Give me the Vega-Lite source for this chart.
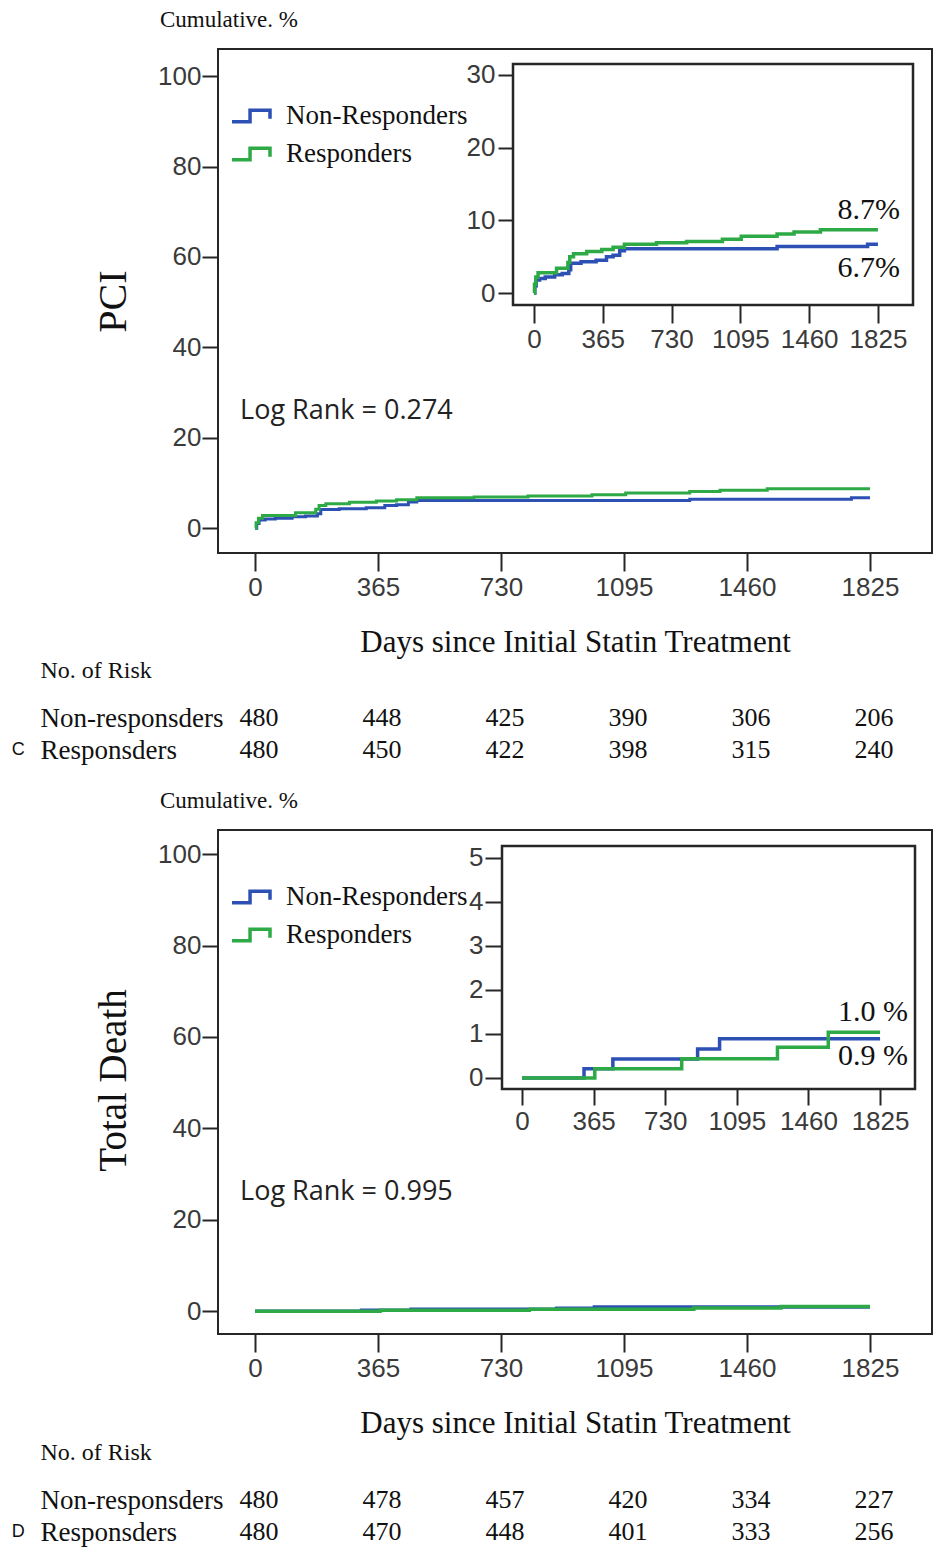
{
  "$schema": "https://vega.github.io/schema/vega-lite/v6.json",
  "background": "white",
  "padding": {"left": 10, "top": 8, "right": 4, "bottom": 4},
  "bounds": "flush",
  "spacing": 277,
  "resolve": {"scale": {"color": "independent"}, "legend": {"color": "independent"}},
  "config": {
    "numberFormat": "d",
    "view": {"stroke": "#262626", "strokeWidth": 2},
    "axis": {"grid": false, "domain": false, "labelFont": "Liberation Sans", "labelFontSize": 26, "labelColor": "#3a3a3a", "tickColor": "#262626", "tickWidth": 2, "labelOverlap": false, "labelFlush": false, "labelLimit": 400, "titleFont": "Liberation Serif", "titleFontWeight": "normal", "titleColor": "#111111"},
    "legend": {"orient": "none", "legendX": 12, "legendY": 46, "title": null, "symbolType": "M-1,0.3H-0.05V-0.3H1V0.15", "symbolSize": 1444, "symbolStrokeWidth": 3.5, "symbolFillColor": "transparent", "labelFont": "Liberation Serif", "labelFontSize": 27, "labelColor": "#111111", "labelOffset": 14, "rowPadding": 4, "padding": 0, "labelLimit": 400},
    "title": {"anchor": "start", "frame": "group", "dx": -58, "offset": 17, "baseline": "alphabetic", "font": "Liberation Serif", "fontSize": 23, "fontWeight": "normal", "color": "#111111"}
  },
  "datasets": {
    "pci": [
      {"group": "Non-Responders", "day": 0, "pct": 0},
      {"group": "Non-Responders", "day": 5, "pct": 1.0},
      {"group": "Non-Responders", "day": 12, "pct": 1.8},
      {"group": "Non-Responders", "day": 30, "pct": 2.0},
      {"group": "Non-Responders", "day": 60, "pct": 2.2},
      {"group": "Non-Responders", "day": 110, "pct": 2.5},
      {"group": "Non-Responders", "day": 150, "pct": 2.7},
      {"group": "Non-Responders", "day": 185, "pct": 3.2},
      {"group": "Non-Responders", "day": 195, "pct": 4.1},
      {"group": "Non-Responders", "day": 250, "pct": 4.3},
      {"group": "Non-Responders", "day": 330, "pct": 4.5},
      {"group": "Non-Responders", "day": 385, "pct": 5.0},
      {"group": "Non-Responders", "day": 420, "pct": 5.2},
      {"group": "Non-Responders", "day": 455, "pct": 5.8},
      {"group": "Non-Responders", "day": 480, "pct": 6.1},
      {"group": "Non-Responders", "day": 1290, "pct": 6.4},
      {"group": "Non-Responders", "day": 1770, "pct": 6.7},
      {"group": "Non-Responders", "day": 1825, "pct": 6.7},
      {"group": "Responders", "day": 0, "pct": 0},
      {"group": "Responders", "day": 3, "pct": 1.2},
      {"group": "Responders", "day": 10, "pct": 2.2},
      {"group": "Responders", "day": 22, "pct": 2.8},
      {"group": "Responders", "day": 120, "pct": 3.4},
      {"group": "Responders", "day": 180, "pct": 4.2},
      {"group": "Responders", "day": 190, "pct": 5.0},
      {"group": "Responders", "day": 210, "pct": 5.4},
      {"group": "Responders", "day": 280, "pct": 5.7},
      {"group": "Responders", "day": 360, "pct": 6.0},
      {"group": "Responders", "day": 420, "pct": 6.3},
      {"group": "Responders", "day": 480, "pct": 6.7},
      {"group": "Responders", "day": 650, "pct": 6.9},
      {"group": "Responders", "day": 810, "pct": 7.1},
      {"group": "Responders", "day": 1000, "pct": 7.4},
      {"group": "Responders", "day": 1100, "pct": 7.8},
      {"group": "Responders", "day": 1290, "pct": 8.1},
      {"group": "Responders", "day": 1380, "pct": 8.4},
      {"group": "Responders", "day": 1520, "pct": 8.7},
      {"group": "Responders", "day": 1825, "pct": 8.7}
    ],
    "death": [
      {"group": "Non-Responders", "day": 0, "pct": 0},
      {"group": "Non-Responders", "day": 316, "pct": 0.21},
      {"group": "Non-Responders", "day": 463, "pct": 0.43},
      {"group": "Non-Responders", "day": 895, "pct": 0.66},
      {"group": "Non-Responders", "day": 1007, "pct": 0.89},
      {"group": "Non-Responders", "day": 1825, "pct": 0.89},
      {"group": "Responders", "day": 0, "pct": 0},
      {"group": "Responders", "day": 371, "pct": 0.21},
      {"group": "Responders", "day": 814, "pct": 0.44},
      {"group": "Responders", "day": 1302, "pct": 0.70},
      {"group": "Responders", "day": 1561, "pct": 1.04},
      {"group": "Responders", "day": 1825, "pct": 1.04}
    ],
    "riskC": [
      {"group": "Non-responsders", "day": 0, "n": 480},
      {"group": "Non-responsders", "day": 365, "n": 448},
      {"group": "Non-responsders", "day": 730, "n": 425},
      {"group": "Non-responsders", "day": 1095, "n": 390},
      {"group": "Non-responsders", "day": 1460, "n": 306},
      {"group": "Non-responsders", "day": 1825, "n": 206},
      {"group": "Responsders", "day": 0, "n": 480},
      {"group": "Responsders", "day": 365, "n": 450},
      {"group": "Responsders", "day": 730, "n": 422},
      {"group": "Responsders", "day": 1095, "n": 398},
      {"group": "Responsders", "day": 1460, "n": 315},
      {"group": "Responsders", "day": 1825, "n": 240}
    ],
    "riskD": [
      {"group": "Non-responsders", "day": 0, "n": 480},
      {"group": "Non-responsders", "day": 365, "n": 478},
      {"group": "Non-responsders", "day": 730, "n": 457},
      {"group": "Non-responsders", "day": 1095, "n": 420},
      {"group": "Non-responsders", "day": 1460, "n": 334},
      {"group": "Non-responsders", "day": 1825, "n": 227},
      {"group": "Responsders", "day": 0, "n": 480},
      {"group": "Responsders", "day": 365, "n": 470},
      {"group": "Responsders", "day": 730, "n": 448},
      {"group": "Responsders", "day": 1095, "n": 401},
      {"group": "Responsders", "day": 1460, "n": 333},
      {"group": "Responsders", "day": 1825, "n": 256}
    ]
  },
  "vconcat": [
    {
      "title": {"text": "Cumulative. %"},
      "width": 714,
      "height": 504,
      "resolve": {"scale": {"x": "independent", "y": "independent"}},
      "layer": [
        {
          "layer": [
            {
              "data": {"name": "pci"},
              "mark": {"type": "line", "interpolate": "step-after", "strokeWidth": 3},
              "encoding": {
                "x": {"field": "day", "type": "quantitative", "scale": {"domain": [-110, 2009], "nice": false, "zero": false},
                  "axis": {"values": [0, 365, 730, 1095, 1460, 1825], "format": "d", "tickSize": 18, "labelPadding": 3, "title": "Days since Initial Statin Treatment", "titleFontSize": 31, "titleY": 98, "titleBaseline": "alphabetic"}},
                "y": {"field": "pct", "type": "quantitative", "scale": {"domain": [-5.5, 106], "nice": false, "zero": false},
                  "axis": {"values": [0, 20, 40, 60, 80, 100], "format": "d", "tickSize": 16, "labelPadding": 1, "title": "PCI", "titleFontSize": 40, "titleAngle": -90, "titleX": -105, "titleY": 252, "titleAlign": "center", "titleBaseline": "middle"}},
                "color": {"field": "group", "type": "nominal", "scale": {"domain": ["Non-Responders", "Responders"], "range": ["#2d50b4", "#2daa46"]}}
              }
            },
            {
              "data": {"values": [{"label": "Log Rank = 0.274"}]},
              "mark": {"type": "text", "font": "Open Sans", "fontSize": 27, "align": "left", "baseline": "middle", "dx": -15, "color": "#222222"},
              "encoding": {
                "x": {"datum": 0, "type": "quantitative", "scale": {"domain": [-110, 2009], "nice": false, "zero": false}},
                "y": {"datum": 26, "type": "quantitative", "scale": {"domain": [-5.5, 106], "nice": false, "zero": false}},
                "text": {"field": "label"}
              }
            }
          ]
        },
        {
          "layer": [
            {
              "data": {"values": [{}]},
              "mark": {"type": "rect", "fill": "white", "stroke": "#262626", "strokeWidth": 2.5},
              "encoding": {
                "x": {"datum": -111, "type": "quantitative", "scale": {"domain": [-111, 2011], "range": [295, 695], "nice": false, "zero": false},
                  "axis": {"orient": "bottom", "offset": -248, "values": [0, 365, 730, 1095, 1460, 1825], "format": "d", "tickSize": 18, "labelPadding": 3, "title": null}},
                "x2": {"datum": 2011},
                "y": {"datum": -1.65, "type": "quantitative", "scale": {"domain": [-1.65, 31.5], "range": [256, 15], "nice": false, "zero": false},
                  "axis": {"orient": "left", "offset": -295, "values": [0, 10, 20, 30], "format": "d", "tickSize": 15, "labelPadding": 3, "title": null}},
                "y2": {"datum": 31.5}
              }
            },
            {
              "data": {"name": "pci"},
              "mark": {"type": "line", "interpolate": "step-after", "strokeWidth": 3.5},
              "encoding": {
                "x": {"field": "day", "type": "quantitative", "scale": {"domain": [-111, 2011], "range": [295, 695], "nice": false, "zero": false},
                  "axis": {"orient": "bottom", "offset": -248, "values": [0, 365, 730, 1095, 1460, 1825], "format": "d", "tickSize": 18, "labelPadding": 3, "title": null}},
                "y": {"field": "pct", "type": "quantitative", "scale": {"domain": [-1.65, 31.5], "range": [256, 15], "nice": false, "zero": false},
                  "axis": {"orient": "left", "offset": -295, "values": [0, 10, 20, 30], "format": "d", "tickSize": 15, "labelPadding": 3, "title": null}},
                "color": {"field": "group", "type": "nominal", "scale": {"domain": ["Non-Responders", "Responders"], "range": ["#2d50b4", "#2daa46"]}}
              }
            },
            {
              "data": {"values": [{"day": 1825, "pct": 8.7, "label": "8.7%"}]},
              "mark": {"type": "text", "font": "Liberation Serif", "fontSize": 30, "align": "right", "baseline": "middle", "dx": 22, "dy": -20, "color": "#111111"},
              "encoding": {
                "x": {"field": "day", "type": "quantitative", "scale": {"domain": [-111, 2011], "range": [295, 695], "nice": false, "zero": false},
                  "axis": {"orient": "bottom", "offset": -248, "values": [0, 365, 730, 1095, 1460, 1825], "format": "d", "tickSize": 18, "labelPadding": 3, "title": null}},
                "y": {"field": "pct", "type": "quantitative", "scale": {"domain": [-1.65, 31.5], "range": [256, 15], "nice": false, "zero": false},
                  "axis": {"orient": "left", "offset": -295, "values": [0, 10, 20, 30], "format": "d", "tickSize": 15, "labelPadding": 3, "title": null}},
                "text": {"field": "label"}
              }
            },
            {
              "data": {"values": [{"day": 1825, "pct": 6.7, "label": "6.7%"}]},
              "mark": {"type": "text", "font": "Liberation Serif", "fontSize": 30, "align": "right", "baseline": "middle", "dx": 22, "dy": 24, "color": "#111111"},
              "encoding": {
                "x": {"field": "day", "type": "quantitative", "scale": {"domain": [-111, 2011], "range": [295, 695], "nice": false, "zero": false},
                  "axis": {"orient": "bottom", "offset": -248, "values": [0, 365, 730, 1095, 1460, 1825], "format": "d", "tickSize": 18, "labelPadding": 3, "title": null}},
                "y": {"field": "pct", "type": "quantitative", "scale": {"domain": [-1.65, 31.5], "range": [256, 15], "nice": false, "zero": false},
                  "axis": {"orient": "left", "offset": -295, "values": [0, 10, 20, 30], "format": "d", "tickSize": 15, "labelPadding": 3, "title": null}},
                "text": {"field": "label"}
              }
            }
          ]
        },
        {
          "layer": [
            {
              "data": {"name": "riskC"},
              "mark": {"type": "text", "font": "Liberation Serif", "fontSize": 26, "baseline": "middle", "dx": 4, "color": "#111111"},
              "encoding": {
                "x": {"field": "day", "type": "quantitative", "scale": {"domain": [-110, 2009], "nice": false, "zero": false}, "axis": null},
                "y": {"field": "group", "type": "nominal", "scale": {"type": "point", "domain": ["Non-responsders", "Responsders"], "range": [669, 701], "padding": 0},
                  "axis": {"orient": "left", "ticks": false, "tickSize": 0, "labelAlign": "left", "labelBaseline": "middle", "labelPadding": 178, "labelLimit": 400, "labelFont": "Liberation Serif", "labelFontSize": 27, "labelColor": "#111111", "title": "No. of Risk", "titleAngle": 0, "titleAlign": "left", "titleBaseline": "middle", "titleX": -178, "titleY": 621, "titleFontSize": 24}},
                "text": {"field": "n"}
              }
            },
            {
              "data": {"values": [{"group": "Responsders", "panel": "C"}]},
              "mark": {"type": "text", "font": "Liberation Sans", "fontSize": 18, "align": "left", "baseline": "middle", "color": "#111111"},
              "encoding": {
                "x": {"datum": -722, "type": "quantitative", "scale": {"domain": [-110, 2009], "nice": false, "zero": false}, "axis": null},
                "y": {"field": "group", "type": "nominal", "scale": {"type": "point", "domain": ["Non-responsders", "Responsders"], "range": [669, 701], "padding": 0},
                  "axis": {"orient": "left", "ticks": false, "tickSize": 0, "labelAlign": "left", "labelBaseline": "middle", "labelPadding": 178, "labelLimit": 400, "labelFont": "Liberation Serif", "labelFontSize": 27, "labelColor": "#111111", "title": "No. of Risk", "titleAngle": 0, "titleAlign": "left", "titleBaseline": "middle", "titleX": -178, "titleY": 621, "titleFontSize": 24}},
                "text": {"field": "panel"}
              }
            }
          ]
        }
      ]
    },
    {
      "title": {"text": "Cumulative. %"},
      "width": 714,
      "height": 504,
      "resolve": {"scale": {"x": "independent", "y": "independent"}},
      "layer": [
        {
          "layer": [
            {
              "data": {"name": "death"},
              "mark": {"type": "line", "interpolate": "step-after", "strokeWidth": 3.5},
              "encoding": {
                "x": {"field": "day", "type": "quantitative", "scale": {"domain": [-110, 2009], "nice": false, "zero": false},
                  "axis": {"values": [0, 365, 730, 1095, 1460, 1825], "format": "d", "tickSize": 18, "labelPadding": 3, "title": "Days since Initial Statin Treatment", "titleFontSize": 31, "titleY": 98, "titleBaseline": "alphabetic"}},
                "y": {"field": "pct", "type": "quantitative", "scale": {"domain": [-5.0, 105.3], "nice": false, "zero": false},
                  "axis": {"values": [0, 20, 40, 60, 80, 100], "format": "d", "tickSize": 16, "labelPadding": 1, "title": "Total Death", "titleFontSize": 39, "titleAngle": -90, "titleX": -105, "titleY": 250, "titleAlign": "center", "titleBaseline": "middle"}},
                "color": {"field": "group", "type": "nominal", "scale": {"domain": ["Non-Responders", "Responders"], "range": ["#2d50b4", "#2daa46"]}}
              }
            },
            {
              "data": {"values": [{"label": "Log Rank = 0.995"}]},
              "mark": {"type": "text", "font": "Open Sans", "fontSize": 27, "align": "left", "baseline": "middle", "dx": -15, "color": "#222222"},
              "encoding": {
                "x": {"datum": 0, "type": "quantitative", "scale": {"domain": [-110, 2009], "nice": false, "zero": false}},
                "y": {"datum": 26, "type": "quantitative", "scale": {"domain": [-5.0, 105.3], "nice": false, "zero": false}},
                "text": {"field": "label"}
              }
            }
          ]
        },
        {
          "layer": [
            {
              "data": {"values": [{}]},
              "mark": {"type": "rect", "fill": "white", "stroke": "#262626", "strokeWidth": 2.5},
              "encoding": {
                "x": {"datum": -102, "type": "quantitative", "scale": {"domain": [-102, 2003], "range": [284, 697], "nice": false, "zero": false},
                  "axis": {"orient": "bottom", "offset": -245, "values": [0, 365, 730, 1095, 1460, 1825], "format": "d", "tickSize": 16, "labelPadding": 3, "title": null}},
                "x2": {"datum": 2003},
                "y": {"datum": -0.25, "type": "quantitative", "scale": {"domain": [-0.25, 5.27], "range": [259, 16], "nice": false, "zero": false},
                  "axis": {"orient": "left", "offset": -284, "values": [0, 1, 2, 3, 4, 5], "format": "d", "tickSize": 17, "labelPadding": 2, "title": null}},
                "y2": {"datum": 5.27}
              }
            },
            {
              "data": {"name": "death"},
              "mark": {"type": "line", "interpolate": "step-after", "strokeWidth": 3.5},
              "encoding": {
                "x": {"field": "day", "type": "quantitative", "scale": {"domain": [-102, 2003], "range": [284, 697], "nice": false, "zero": false},
                  "axis": {"orient": "bottom", "offset": -245, "values": [0, 365, 730, 1095, 1460, 1825], "format": "d", "tickSize": 16, "labelPadding": 3, "title": null}},
                "y": {"field": "pct", "type": "quantitative", "scale": {"domain": [-0.25, 5.27], "range": [259, 16], "nice": false, "zero": false},
                  "axis": {"orient": "left", "offset": -284, "values": [0, 1, 2, 3, 4, 5], "format": "d", "tickSize": 17, "labelPadding": 2, "title": null}},
                "color": {"field": "group", "type": "nominal", "scale": {"domain": ["Non-Responders", "Responders"], "range": ["#2d50b4", "#2daa46"]}}
              }
            },
            {
              "data": {"values": [{"day": 1825, "pct": 1.04, "label": "1.0 %"}]},
              "mark": {"type": "text", "font": "Liberation Serif", "fontSize": 30, "align": "right", "baseline": "middle", "dx": 28, "dy": -20, "color": "#111111"},
              "encoding": {
                "x": {"field": "day", "type": "quantitative", "scale": {"domain": [-102, 2003], "range": [284, 697], "nice": false, "zero": false},
                  "axis": {"orient": "bottom", "offset": -245, "values": [0, 365, 730, 1095, 1460, 1825], "format": "d", "tickSize": 16, "labelPadding": 3, "title": null}},
                "y": {"field": "pct", "type": "quantitative", "scale": {"domain": [-0.25, 5.27], "range": [259, 16], "nice": false, "zero": false},
                  "axis": {"orient": "left", "offset": -284, "values": [0, 1, 2, 3, 4, 5], "format": "d", "tickSize": 17, "labelPadding": 2, "title": null}},
                "text": {"field": "label"}
              }
            },
            {
              "data": {"values": [{"day": 1825, "pct": 0.89, "label": "0.9 %"}]},
              "mark": {"type": "text", "font": "Liberation Serif", "fontSize": 30, "align": "right", "baseline": "middle", "dx": 28, "dy": 17, "color": "#111111"},
              "encoding": {
                "x": {"field": "day", "type": "quantitative", "scale": {"domain": [-102, 2003], "range": [284, 697], "nice": false, "zero": false},
                  "axis": {"orient": "bottom", "offset": -245, "values": [0, 365, 730, 1095, 1460, 1825], "format": "d", "tickSize": 16, "labelPadding": 3, "title": null}},
                "y": {"field": "pct", "type": "quantitative", "scale": {"domain": [-0.25, 5.27], "range": [259, 16], "nice": false, "zero": false},
                  "axis": {"orient": "left", "offset": -284, "values": [0, 1, 2, 3, 4, 5], "format": "d", "tickSize": 17, "labelPadding": 2, "title": null}},
                "text": {"field": "label"}
              }
            }
          ]
        },
        {
          "layer": [
            {
              "data": {"name": "riskD"},
              "mark": {"type": "text", "font": "Liberation Serif", "fontSize": 26, "baseline": "middle", "dx": 4, "color": "#111111"},
              "encoding": {
                "x": {"field": "day", "type": "quantitative", "scale": {"domain": [-110, 2009], "nice": false, "zero": false}, "axis": null},
                "y": {"field": "group", "type": "nominal", "scale": {"type": "point", "domain": ["Non-responsders", "Responsders"], "range": [670, 702], "padding": 0},
                  "axis": {"orient": "left", "ticks": false, "tickSize": 0, "labelAlign": "left", "labelBaseline": "middle", "labelPadding": 178, "labelLimit": 400, "labelFont": "Liberation Serif", "labelFontSize": 27, "labelColor": "#111111", "title": "No. of Risk", "titleAngle": 0, "titleAlign": "left", "titleBaseline": "middle", "titleX": -178, "titleY": 622, "titleFontSize": 24}},
                "text": {"field": "n"}
              }
            },
            {
              "data": {"values": [{"group": "Responsders", "panel": "D"}]},
              "mark": {"type": "text", "font": "Liberation Sans", "fontSize": 18, "align": "left", "baseline": "middle", "color": "#111111"},
              "encoding": {
                "x": {"datum": -722, "type": "quantitative", "scale": {"domain": [-110, 2009], "nice": false, "zero": false}, "axis": null},
                "y": {"field": "group", "type": "nominal", "scale": {"type": "point", "domain": ["Non-responsders", "Responsders"], "range": [670, 702], "padding": 0},
                  "axis": {"orient": "left", "ticks": false, "tickSize": 0, "labelAlign": "left", "labelBaseline": "middle", "labelPadding": 178, "labelLimit": 400, "labelFont": "Liberation Serif", "labelFontSize": 27, "labelColor": "#111111", "title": "No. of Risk", "titleAngle": 0, "titleAlign": "left", "titleBaseline": "middle", "titleX": -178, "titleY": 622, "titleFontSize": 24}},
                "text": {"field": "panel"}
              }
            }
          ]
        }
      ]
    }
  ]
}
